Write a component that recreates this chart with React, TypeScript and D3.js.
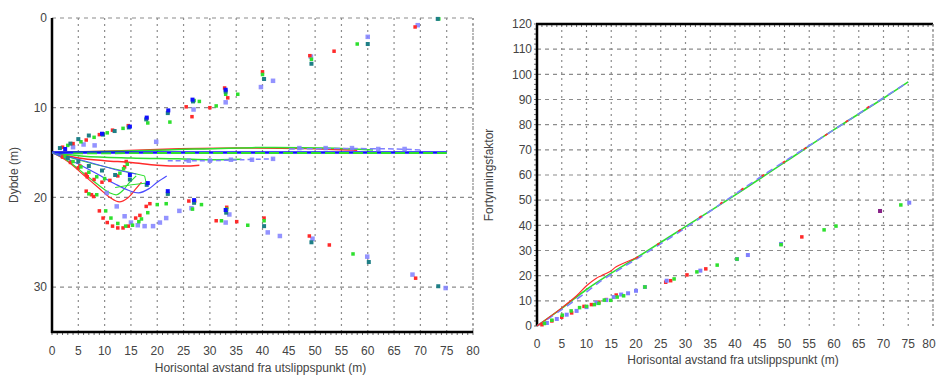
import React, { useEffect, useRef } from "react";
import * as d3 from "d3";

type Pt = [number, number];

// ---- left panel: depth vs horizontal distance ----
const xTicks = d3.range(0, 81, 5);
const depthTicks = [0, 10, 20, 30];
const dilutionTicks = d3.range(0, 121, 10);

// centre lines
const blueCentre: Pt[] = [[0, 15], [25, 15], [50, 15], [75, 15]];
const greenCentre: Pt[] = [[4, 15.1], [20, 15.05], [50, 15.05], [75, 15.05]];
const redUpperLine: Pt[] = [[0, 15], [10, 14.85], [20, 14.65], [35, 14.5], [48, 14.55], [58, 14.75]];
const greenUpperLine: Pt[] = [[0, 15], [12, 14.85], [22, 14.7], [38, 14.45], [52, 14.5], [61, 14.7]];
const blueUpperLine: Pt[] = [[45, 14.6], [55, 14.55], [65, 14.6], [70, 14.7]];
const redLowerLine: Pt[] = [[0, 15], [5, 15.6], [10, 15.9], [15, 16.1], [20, 16.4], [25, 16.5], [28, 16.4]];
const greenLowerLine: Pt[] = [[0, 15], [6, 15.4], [15, 15.6], [24, 15.7], [30, 15.8], [36, 15.75]];
const blueLowerLine: Pt[] = [[22, 15.9], [30, 15.9], [36, 15.8], [42, 15.7]];

// sinking plumes
const redSink: Pt[] = [[0, 15], [3, 16], [6, 17.5], [9, 19], [11, 20], [12.8, 20.5], [14.5, 20], [16, 19], [17, 18.3]];
const greenSink: Pt[] = [[0, 15], [3, 15.9], [6, 17.3], [9, 18.7], [11, 19.5], [12.3, 19.7], [13.5, 19.2], [14.5, 18.5], [16, 17.6]];
const blueSink: Pt[] = [[0, 15], [4, 16], [8, 17.2], [12, 18.5], [14.5, 19.2], [16.5, 19.5], [18.5, 19], [20, 18.3], [21.8, 17.6]];
const greenSinkEdge: Pt[] = [[0, 15], [8, 16.3], [14, 17.1], [17.6, 17.6], [17.9, 18.4], [15, 18.6], [12, 18.9]];
const blueSinkEdge: Pt[] = [[0, 15], [6, 15.9], [12, 16.9], [16, 17.4]];

// plume edge points
const redPts: Pt[] = [
  [2, 14.4], [4, 14], [6.5, 13.6], [9, 13], [11.5, 12.5], [14.5, 12], [18, 11.2], [22, 10.5], [25.5, 9.9], [26.6, 11],
  [30, 10], [32.8, 7.8], [33.4, 8.9], [40, 6], [49, 4.2], [53.6, 3.7], [69, 1],
  [26, 20.4], [27.1, 20.4], [31.2, 22.6], [33.2, 21.1], [35.1, 22.7], [40.3, 22.3], [48.9, 24.3], [52.7, 25.3], [69.1, 29],
  [2, 15.5], [3.5, 16.1], [5, 16.7], [6.5, 17.4], [8, 18], [9.5, 18.3], [11, 18.1], [12.5, 17.6], [13.8, 16.6], [14.1, 16],
  [6.5, 19.3], [7.5, 19.7], [9, 21.5], [9.7, 22.3], [10.5, 22.8], [11.5, 23.2], [12.5, 23.4], [13.5, 23.4], [14.5, 23.2],
  [15.9, 22.3], [16.7, 22], [17.9, 21], [18.6, 20.7], [5.3, 16.5], [6.7, 17.7], [7.9, 19.9]
];
const greenPts: Pt[] = [
  [3, 14.2], [5.5, 13.8], [8, 13.3], [10.5, 12.8], [13.5, 12.3], [18.2, 11.7], [22.4, 11.6], [27, 9.2], [28, 9.3],
  [31.2, 9.8], [33, 8.5], [35.3, 8.5], [40, 6.3], [49.3, 4.6], [58, 2.9], [73.5, 0.1],
  [22, 19.6], [26.7, 21.3], [28.4, 20.8], [32.2, 22.6], [33.2, 21.3], [37.2, 23.1], [40.3, 22.6], [57.2, 26.3],
  [2.5, 15.4], [4, 16], [5.5, 16.6], [7, 17.2], [8.5, 17.7], [10, 17.9], [12.9, 17.3], [13.6, 16.8], [14.3, 16.3],
  [7, 19.6], [8.5, 19.7], [10.2, 21.5], [11.2, 22.3], [12.5, 22.9], [14, 23.2], [15.3, 23.1], [16.5, 22.7],
  [18.2, 21.7], [20, 20.8], [21.7, 20.7], [17, 22.4]
];
const tealPts: Pt[] = [
  [1.5, 14.5], [3.5, 14], [5, 13.5], [7, 13.1], [9.7, 13], [11.9, 12.6], [14.6, 12.2], [17.9, 11.3], [22, 10.6],
  [26.8, 9.3], [33, 8.2], [40.3, 6.8], [49.3, 5.1], [60, 2.9], [73.3, 0.1],
  [3, 15.6], [5, 16], [7, 16.5], [9.5, 17], [12, 17.5], [14.8, 18], [18, 18.6], [22, 19.6], [27, 20.6],
  [33.1, 21.7], [40.3, 23.2], [49.3, 25], [60.2, 27.2], [73.4, 29.9]
];
const bluePts: Pt[] = [
  [2.5, 14.6], [9.5, 12.9], [14.8, 12.1], [18, 11.1], [22.1, 10.3], [26.7, 9.1], [33, 8], [14.8, 17.5], [18.2, 18.4],
  [22, 19.3], [27, 20.3], [33, 21.4]
];
const lightBluePts: Pt[] = [
  [4, 14.4], [6, 14.1], [8.1, 14.2], [19.8, 13.8], [26.9, 10.2], [33, 9.4], [39.7, 7.7], [42, 7], [49.2, 4.3],
  [60, 2.1], [69.5, 0.8],
  [24.2, 21.5], [26.5, 21.2], [33, 22.8], [33.7, 21.9], [41, 23.9], [43.3, 24.3], [49.5, 24.6], [59.9, 26.6],
  [68.5, 28.6], [74.8, 30.1],
  [10.4, 19.5], [12.3, 21], [13.8, 22.1], [15, 22.8], [16.3, 23.1], [17.6, 23.2], [19.2, 23.2], [20.5, 22.8], [21.7, 22.3],
  [26, 15.9], [30, 15.9], [34, 15.8], [38, 15.8], [42, 15.7], [47, 14.5], [52, 14.5], [57, 14.5], [62, 14.6], [67, 14.6]
];

// ---- right panel: dilution vs horizontal distance ----
const greenDilLine: Pt[] = [[0, 0], [5, 7], [10, 14.5], [15, 21], [20, 27], [30, 39.5], [40, 52], [50, 65], [60, 78], [70, 90.5], [75, 97]];
const blueDilLine: Pt[] = [[0, 0], [5, 6.5], [10, 13.5], [13, 18], [15, 20.5], [20, 26.5], [30, 39], [45, 59], [60, 78], [75, 97]];
const redDilLine: Pt[] = [[0, 0], [5, 7.2], [8, 12], [10, 16], [12, 19], [13, 20], [15, 22], [16, 23.5], [20, 27], [30, 39.5], [45, 59], [60, 78], [70, 91]];
const redDilPts: Pt[] = [
  [1, 0.5], [3, 2], [5, 3.5], [7, 5.2], [9.5, 7.8], [11, 8.5], [12.5, 9.5], [14, 10.5], [16, 12.3], [26, 17.4],
  [27, 18], [30.3, 20.3], [34.1, 22.7], [53.5, 35.4]
];
const greenDilPts: Pt[] = [
  [1.5, 1], [3, 2.3], [5.1, 4.3], [6.9, 6], [8.6, 7.3], [10, 7.8], [11.6, 8.5], [12.5, 9], [13.6, 10.3], [14.9, 10.2],
  [16.2, 11.5], [17.5, 12], [21.8, 15.5], [27.7, 18.7], [32.3, 21.5], [36.4, 24.2], [40.4, 26.6], [49.3, 32.3],
  [58, 38.2], [60.4, 39.7], [73.5, 48.1]
];
const blueDilPts: Pt[] = [
  [2, 1.2], [4, 2.8], [6, 4.5], [8, 6], [10, 7.5], [12, 9.2], [14, 10.3], [15.5, 11.5], [17, 12.5], [18.4, 13],
  [20, 14], [21.8, 15.5], [26.2, 18], [33, 22], [40.4, 26.6], [42.6, 28.2], [49.3, 32.6], [75.2, 49]
];
const purpleDilPts: Pt[] = [[69.3, 45.7]];

const RED = "#ff2a2a";
const GREEN = "#2ee02e";
const BLUE = "#1010ff";
const LIGHTBLUE = "#8080ff";
const TEAL = "#1e7f86";
const GRID = "#8c8c8c";
const FONT = "'Liberation Sans', Arial, sans-serif";

const App: React.FC = () => {
  const svgRef = useRef<SVGSVGElement | null>(null);

  useEffect(() => {
    if (!svgRef.current) return;
    const svg = d3.select(svgRef.current);
    svg.selectAll("*").remove();

    const panel = (
      x0: number, x1: number, y0: number, y1: number,
      yDomain: [number, number], yTicks: number[], yMinor: number | null,
      tickY: number, titleY: number, yTitle: string, yTitleX: number, yLabelX: number, lastShift: number
    ) => {
      const x = d3.scaleLinear().domain([0, 80]).range([x0, x1]);
      const y = d3.scaleLinear().domain(yDomain).range([y0, y1]);
      const g = svg.append("g");

      // grid
      g.selectAll("line.vg").data(xTicks.filter((t) => t > 0)).join("line")
        .attr("x1", (d) => x(d)).attr("x2", (d) => x(d)).attr("y1", y0).attr("y2", y1)
        .attr("stroke", GRID).attr("stroke-width", 1.2).attr("stroke-dasharray", "2,4");
      g.selectAll("line.hg").data(yTicks).join("line")
        .attr("x1", x0).attr("x2", x1).attr("y1", (d) => y(d)).attr("y2", (d) => y(d))
        .attr("stroke", GRID).attr("stroke-width", 1.2).attr("stroke-dasharray", "4,4");

      // minor ticks
      g.selectAll("line.xm").data(d3.range(0, 81, 1)).join("line")
        .attr("x1", (d) => x(d)).attr("x2", (d) => x(d)).attr("y1", y1).attr("y2", y1 + 3)
        .attr("stroke", "#666").attr("stroke-width", 1);
      if (yMinor) {
        g.selectAll("line.ym").data(d3.range(yDomain[0], yDomain[1] + 0.01, yMinor)).join("line")
          .attr("x1", x0 - 3).attr("x2", x0).attr("y1", (d) => y(d)).attr("y2", (d) => y(d))
          .attr("stroke", "#666").attr("stroke-width", 1);
      }

      // axes
      g.append("line").attr("x1", x0).attr("x2", x0).attr("y1", y0).attr("y2", y1 + 1)
        .attr("stroke", "#000").attr("stroke-width", 2.5);
      g.append("line").attr("x1", x0 - 1).attr("x2", x1).attr("y1", y1).attr("y2", y1)
        .attr("stroke", "#000").attr("stroke-width", 2.5);

      // tick labels
      g.selectAll("text.xt").data(xTicks).join("text")
        .attr("x", (d) => x(d) - (d === 80 ? lastShift : 0)).attr("y", tickY).attr("text-anchor", "middle")
        .attr("font-family", FONT).attr("font-size", 12).attr("fill", "#444").text((d) => d);
      g.selectAll("text.yt").data(yTicks).join("text")
        .attr("x", yLabelX).attr("y", (d) => y(d)).attr("dy", "0.35em").attr("text-anchor", "end")
        .attr("font-family", FONT).attr("font-size", 12).attr("fill", "#444").text((d) => d);

      g.append("text").attr("x", (x0 + x1) / 2 - 2).attr("y", titleY).attr("text-anchor", "middle")
        .attr("font-family", FONT).attr("font-size", 12).attr("fill", "#444")
        .text("Horisontal avstand fra utslippspunkt (m)");
      g.append("text").attr("transform", `translate(${yTitleX},175) rotate(-90)`).attr("text-anchor", "middle")
        .attr("font-family", FONT).attr("font-size", 12).attr("fill", "#444").text(yTitle);

      const line = (pts: Pt[], color: string, w: number, dash?: string, curve: d3.CurveFactory = d3.curveCatmullRom) => {
        g.append("path").attr("d", d3.line<Pt>().x((d) => x(d[0])).y((d) => y(d[1])).curve(curve)(pts) ?? "")
          .attr("fill", "none").attr("stroke", color).attr("stroke-width", w)
          .attr("stroke-dasharray", dash ?? null);
      };
      const squares = (pts: Pt[], color: string, s: number, op = 1) => {
        g.append("g").selectAll("rect").data(pts).join("rect")
          .attr("x", (d) => x(d[0]) - s / 2).attr("y", (d) => y(d[1]) - s / 2)
          .attr("width", s).attr("height", s).attr("fill", color).attr("opacity", op);
      };
      return { line, squares };
    };

    // left panel
    const L = panel(52, 473, 18, 332, [0, 35], depthTicks, null, 355, 372, "Dybde (m)", 18, 47, 0);
    L.line(redLowerLine, RED, 1.5);
    L.line(greenLowerLine, GREEN, 1.5);
    L.line(blueLowerLine, LIGHTBLUE, 1.5, "5,3");
    L.line(redUpperLine, RED, 1.5);
    L.line(greenUpperLine, GREEN, 1.5);
    L.line(blueUpperLine, LIGHTBLUE, 1.5, "6,3");
    L.line(blueCentre, BLUE, 2.5, undefined, d3.curveLinear);
    L.line(greenCentre, GREEN, 1.8, "10,4", d3.curveLinear);
    L.line(redSink, RED, 1.2);
    L.line(greenSink, GREEN, 1.2);
    L.line(blueSink, "#4a4aff", 1.2);
    L.line(greenSinkEdge, GREEN, 1, undefined, d3.curveLinear);
    L.line(blueSinkEdge, "#4a4aff", 1, undefined, d3.curveLinear);
    L.squares(lightBluePts, LIGHTBLUE, 4.5, 0.85);
    L.squares(redPts, RED, 3.5);
    L.squares(greenPts, GREEN, 3.5);
    L.squares(tealPts, TEAL, 4);
    L.squares(bluePts, BLUE, 4);

    // frame (dashed right edge)
    svg.append("line").attr("x1", 473).attr("x2", 473).attr("y1", 18).attr("y2", 332)
      .attr("stroke", GRID).attr("stroke-width", 1.2).attr("stroke-dasharray", "2,3");

    // right panel
    const R = panel(537, 933, 326, 24, [0, 120], dilutionTicks.filter((t) => t > 0), 2, 348, 364, "Fortynningsfaktor", 493, 532, 4);
    svg.append("text").attr("x", 532).attr("y", 326).attr("dy", "0.35em").attr("text-anchor", "end")
      .attr("font-family", FONT).attr("font-size", 12).attr("fill", "#444").text(0);
    svg.append("line").attr("x1", 933).attr("x2", 933).attr("y1", 24).attr("y2", 326)
      .attr("stroke", GRID).attr("stroke-width", 1.2).attr("stroke-dasharray", "2,3");
    R.line(greenDilLine, GREEN, 1.6);
    R.line(blueDilLine, LIGHTBLUE, 1.6, "7,5");
    R.line(redDilLine.slice(0, 9), RED, 1.2);
    R.line(redDilLine.slice(8), RED, 1.6, "3,22");
    R.squares(redDilPts, RED, 3.5);
    R.squares(blueDilPts, LIGHTBLUE, 4);
    R.squares(greenDilPts, GREEN, 3.5);
    R.squares(purpleDilPts, "#882288", 4);
  }, []);

  return (
    <div style={{ position: "absolute", left: 0, top: 0, width: 938, height: 376, background: "#fff" }}>
      <svg ref={svgRef} width={938} height={376} style={{ display: "block" }}></svg>
    </div>
  );
};

export default App;
